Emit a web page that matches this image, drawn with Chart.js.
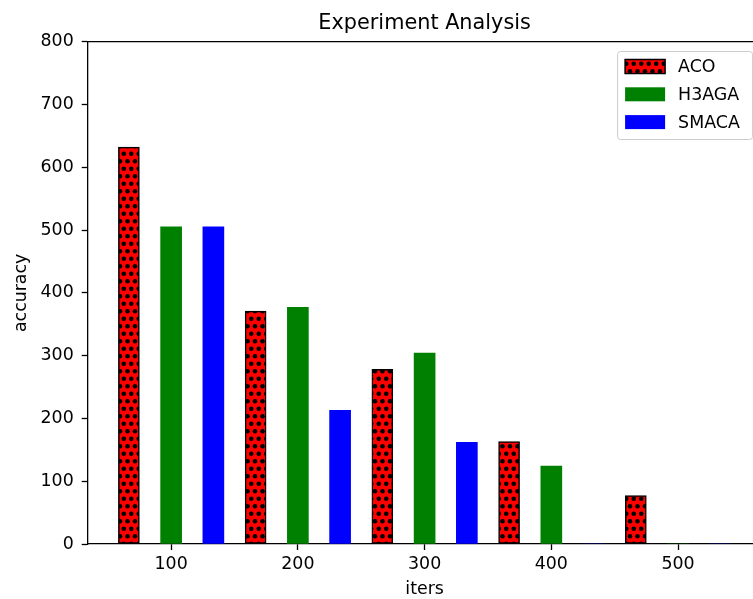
<!DOCTYPE html>
<html>
<head>
<meta charset="utf-8">
<script src="https://cdn.jsdelivr.net/npm/chart.js@4/dist/chart.umd.min.js"></script>
<style>
  html, body { margin: 0; padding: 0; background: #fff; overflow: hidden; }
  canvas { display: block; }
</style>
</head>
<body>
<canvas id="chart" width="775" height="599"></canvas>
<script>
// data
const iters = [100, 200, 300, 400, 500];
const seriesNames = ['ACO', 'H3AGA', 'SMACA'];
const acoValues = [632, 371, 278, 163, 77];
const h3agaValues = [505, 377, 304, 124, 0];
const smacaValues = [505, 213, 162, 0, 0];
const yTickValues = [0, 100, 200, 300, 400, 500, 600, 700, 800];

const FONT = 'DejaVu Sans';
const barW = 100 / 6;              // bar width in x units
const offsets = [-2 * barW, 0, 2 * barW];

// matplotlib-like 5% margins round the bars
const lo = iters[0] + offsets[0] - barW / 2;
const hi = iters[iters.length - 1] + offsets[2] + barW / 2;
const xMin = lo - 0.05 * (hi - lo);
const xMax = hi + 0.05 * (hi - lo);

function dotPattern() {
    const c = document.createElement('canvas');
    c.width = 15; c.height = 15;
    const g = c.getContext('2d');
    g.fillStyle = '#ff0000';
    g.fillRect(0, 0, 15, 15);
    g.fillStyle = '#000';
    const dots = [[3.75, 3.75], [11.25, 3.75], [0, 11.25], [7.5, 11.25], [15, 11.25]];
    dots.forEach(([x, y]) => {
        g.beginPath();
        g.arc(x, y, 2.3, 0, Math.PI * 2);
        g.fill();
    });
    return g.createPattern(c, 'repeat');
}

const ctx = document.getElementById('chart').getContext('2d');
const hatch = dotPattern();

function points(values, k) {
    return iters.map((it, i) => ({ x: it + offsets[k], y: values[i] }));
}

const frame = {
    id: 'frame',
    afterDatasetsDraw(chart) {
        const { ctx, chartArea: a } = chart;
        ctx.save();
        ctx.strokeStyle = '#000';
        ctx.lineWidth = 1.3;
        ctx.beginPath();
        ctx.moveTo(a.left, a.top);
        ctx.lineTo(a.right, a.top);
        ctx.lineTo(a.right, a.bottom);
        ctx.stroke();
        ctx.restore();
    },
    afterDraw(chart) {
        const { ctx, chartArea: a } = chart;
        ctx.save();
        // title
        ctx.fillStyle = '#000';
        ctx.font = '20.8px "' + FONT + '"';
        ctx.textAlign = 'center';
        ctx.textBaseline = 'alphabetic';
        ctx.fillText('Experiment Analysis', (a.left + a.right) / 2, a.top - 12.3);

        // legend box
        const w = 135, h = 88;
        const bx = a.right - 9.4 - w, by = a.top + 9.3;
        ctx.fillStyle = 'rgba(255,255,255,0.8)';
        ctx.strokeStyle = '#cccccc';
        ctx.lineWidth = 1;
        ctx.beginPath();
        ctx.roundRect(bx + 0.5, by + 0.5, w, h, 3);
        ctx.fill();
        ctx.stroke();

        ctx.font = '17.4px "' + FONT + '"';
        ctx.textAlign = 'left';
        ctx.textBaseline = 'middle';
        chart.data.datasets.forEach((ds, i) => {
            const cy = by + 15.5 + i * 27.8;
            ctx.fillStyle = ds.backgroundColor;
            ctx.fillRect(bx + 8, cy - 7, 40, 14);
            if (ds.borderWidth) {
                ctx.strokeStyle = ds.borderColor;
                ctx.lineWidth = ds.borderWidth;
                ctx.strokeRect(bx + 8, cy - 7, 40, 14);
            }
            ctx.fillStyle = '#000';
            ctx.fillText(ds.label, bx + 61, cy + 1);
        });
        ctx.restore();
    }
};

new Chart(ctx, {
    type: 'bar',
    data: {
        datasets: [
            {
                label: seriesNames[0],
                data: points(acoValues, 0),
                backgroundColor: hatch,
                borderColor: '#000',
                borderWidth: 1.5,
                borderSkipped: false
            },
            {
                label: seriesNames[1],
                data: points(h3agaValues, 1),
                backgroundColor: '#008000',
                borderWidth: 0
            },
            {
                label: seriesNames[2],
                data: points(smacaValues, 2),
                backgroundColor: '#0000ff',
                borderWidth: 0
            }
        ]
    },
    options: {
        responsive: false,
        animation: false,
        grouped: false,
        barThickness: 21,
        layout: { padding: { left: 0, right: 13.5, top: 41.7, bottom: 0 } },
        plugins: {
            legend: { display: false },
            tooltip: { enabled: false }
        },
        scales: {
            x: {
                type: 'linear',
                min: xMin,
                max: xMax,
                offset: false,
                afterBuildTicks: scale => {
                    scale.ticks = iters.map(v => ({ value: v }));
                },
                afterFit: scale => { scale.height = 55; },
                ticks: {
                    color: '#000',
                    padding: 4,
                    maxRotation: 0,
                    font: { family: FONT, size: 17.4 }
                },
                grid: {
                    offset: false,
                    drawOnChartArea: false,
                    drawTicks: true,
                    tickLength: 6,
                    tickWidth: 1.3,
                    tickColor: '#000'
                },
                border: { display: true, color: '#000', width: 1.3 },
                title: {
                    display: true,
                    text: 'iters',
                    color: '#000',
                    padding: { top: 0, bottom: -1 },
                    font: { family: FONT, size: 17.4 }
                }
            },
            y: {
                min: 0,
                max: yTickValues[yTickValues.length - 1],
                afterBuildTicks: scale => {
                    scale.ticks = yTickValues.map(v => ({ value: v }));
                },
                afterFit: scale => { scale.width = 87.7; },
                ticks: {
                    color: '#000',
                    padding: 8,
                    font: { family: FONT, size: 17.4 }
                },
                grid: {
                    drawOnChartArea: false,
                    drawTicks: true,
                    tickLength: 6,
                    tickWidth: 1.3,
                    tickColor: '#000'
                },
                border: { display: true, color: '#000', width: 1.3 },
                title: {
                    display: true,
                    text: 'accuracy',
                    color: '#000',
                    padding: { top: 11.5, bottom: 0 },
                    font: { family: FONT, size: 17.4 }
                }
            }
        }
    },
    plugins: [frame]
});
</script>
</body>
</html>
